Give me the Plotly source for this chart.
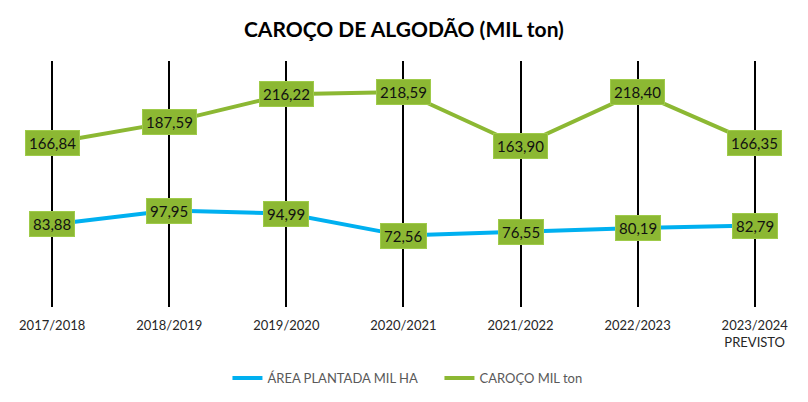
import plotly.graph_objects as go

safras = ["2017/2018", "2018/2019", "2019/2020", "2020/2021",
          "2021/2022", "2022/2023", "2023/2024<br>PREVISTO"]
area_plantada = [83.88, 97.95, 94.99, 72.56, 76.55, 80.19, 82.79]
caroco = [166.84, 187.59, 216.22, 218.59, 163.90, 218.40, 166.35]

BLUE = "#00B0F0"
GREEN = "#8CB833"
FONT = "Lato"


def fmt(v):
    # decimal comma, like the source sheet
    return "{:.2f}".format(v).replace(".", ",")


fig = go.Figure()
fig.add_trace(go.Scatter(x=safras, y=area_plantada, name="ÁREA PLANTADA MIL HA",
                         mode="lines", line=dict(color=BLUE, width=4)))
fig.add_trace(go.Scatter(x=safras, y=caroco, name="CAROÇO MIL ton",
                         mode="lines", line=dict(color=GREEN, width=4)))

# data labels in green boxes
for serie in (area_plantada, caroco):
    for cat, val in zip(safras, serie):
        fig.add_annotation(x=cat, y=val, text=fmt(val), showarrow=False,
                           font=dict(family=FONT, size=15, color="#111111"),
                           bgcolor=GREEN, bordercolor="#9FCB4A", borderwidth=1,
                           borderpad=3)

fig.update_layout(
    width=808, height=402,
    paper_bgcolor="white", plot_bgcolor="white",
    margin=dict(l=2, r=18, t=53, b=103),
    title=dict(text="<b>CAROÇO DE ALGODÃO (MIL ton)</b>", x=0.49, xanchor="center",
               y=0.945, yanchor="middle",
               font=dict(family=FONT, size=21, color="black")),
    showlegend=True,
    legend=dict(orientation="h", x=0.545, xanchor="center", y=-0.228, yanchor="top",
                entrywidth=167, entrywidthmode="pixels",
                font=dict(family=FONT, size=13, color="#595959")),
)
fig.update_xaxes(type="category", range=[-0.36, 6.37], showgrid=True,
                 gridcolor="black", gridwidth=2, zeroline=False, showline=False,
                 ticks="", ticklabelstandoff=9,
                 tickfont=dict(family=FONT, size=13, color="#262626"))
fig.update_yaxes(range=[0, 250], showgrid=False, zeroline=False,
                 showticklabels=False, showline=False)

fig.write_html("out.html")
